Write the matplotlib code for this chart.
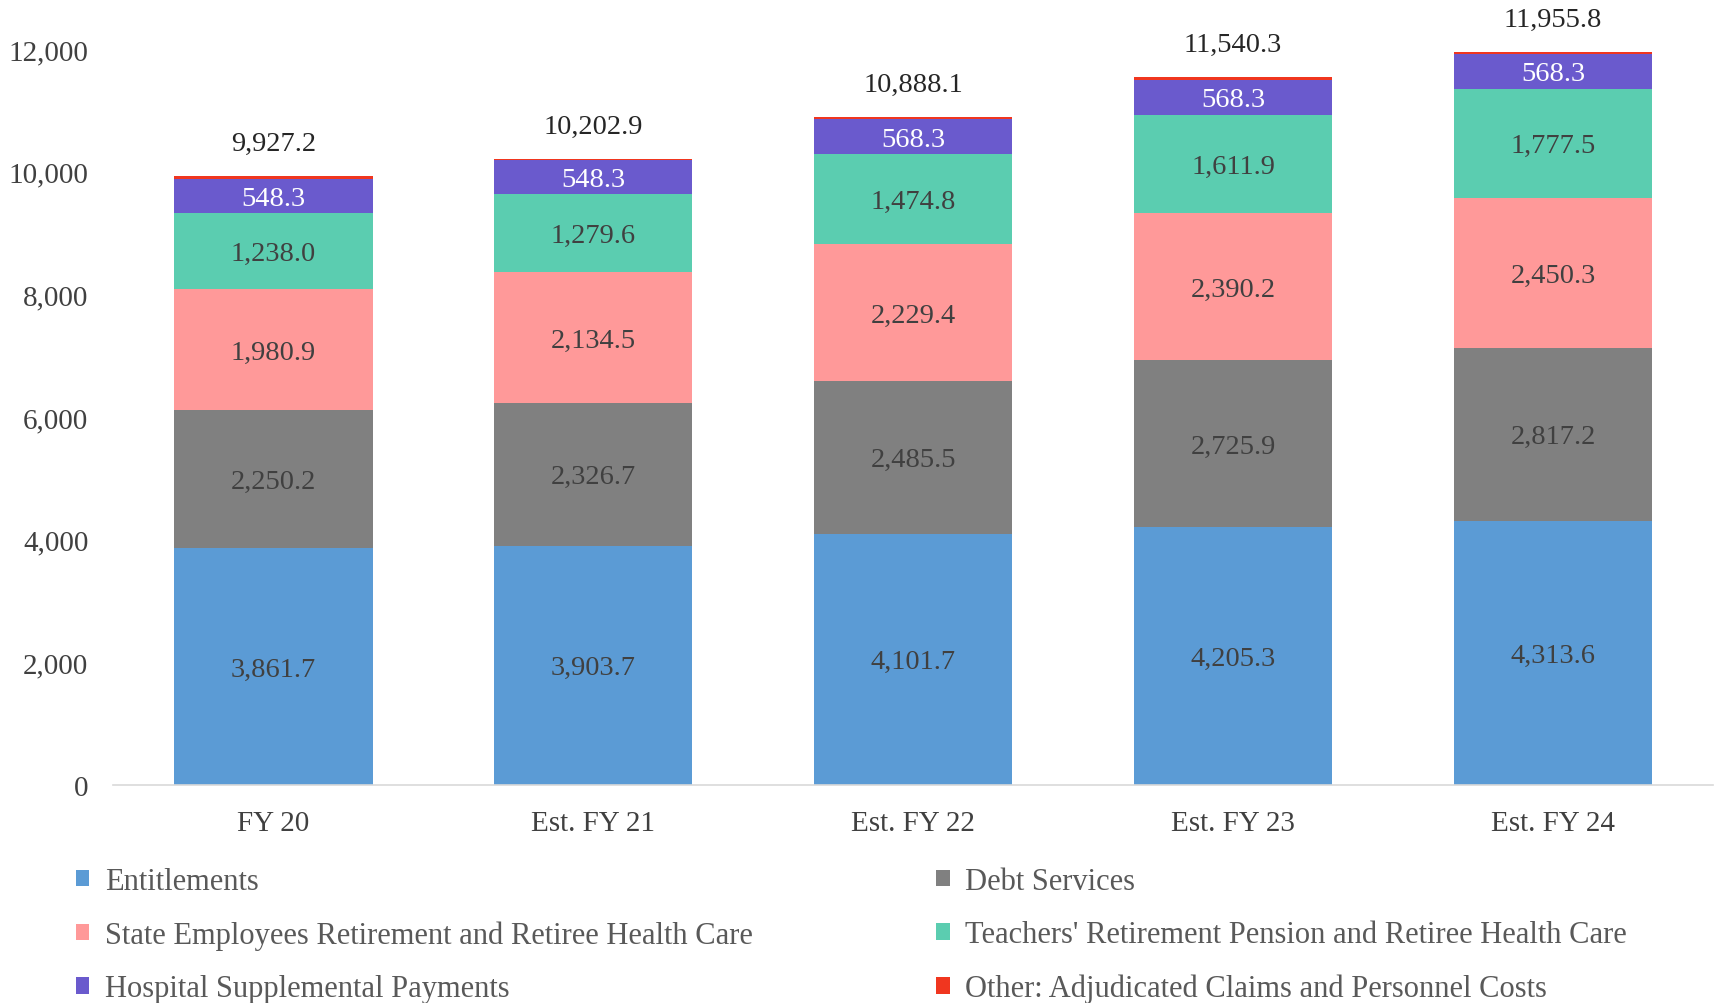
import numpy as np
import matplotlib
matplotlib.use('Agg')
import matplotlib.pyplot as plt
from matplotlib.ticker import FuncFormatter

plt.rcParams['font.family'] = ['Liberation Serif', 'DejaVu Serif']

# Data (millions)
years = ['FY 20', 'Est. FY 21', 'Est. FY 22', 'Est. FY 23', 'Est. FY 24']
entitlements = [3861.7, 3903.7, 4101.7, 4205.3, 4313.6]
debt = [2250.2, 2326.7, 2485.5, 2725.9, 2817.2]
state_emp = [1980.9, 2134.5, 2229.4, 2390.2, 2450.3]
teachers = [1238.0, 1279.6, 1474.8, 1611.9, 1777.5]
hospital = [548.3, 548.3, 568.3, 568.3, 568.3]
other = [48.1, 10.1, 28.4, 38.7, 28.9]
totals = [9927.2, 10202.9, 10888.1, 11540.3, 11955.8]

series = [
    ('Entitlements', entitlements, '#5B9BD5', '#404040', True),
    ('Debt Services', debt, '#808080', '#404040', True),
    ('State Employees Retirement and Retiree Health Care', state_emp, '#FF9999', '#404040', True),
    ("Teachers' Retirement Pension and Retiree Health Care", teachers, '#5BCDB0', '#404040', True),
    ('Hospital Supplemental Payments', hospital, '#6A5ACD', 'white', True),
    ('Other: Adjudicated Claims and Personnel Costs', other, '#F0361F', '#404040', False),
]

fig = plt.figure(figsize=(17.19, 10.04), dpi=100)
ax = fig.add_axes([0.066, 0.217, 0.9305, 0.733])

x = np.arange(len(years))
bottom = np.zeros(len(years))
handles = {}
for name, vals, color, tcolor, show in series:
    vals = np.array(vals)
    b = ax.bar(x, vals, width=0.62, bottom=bottom, color=color, label=name)
    handles[name] = b
    if show:
        # Excel puts the label a touch below the segment centre
        for xi, v, bt in zip(x, vals, bottom):
            ax.text(xi, bt + v / 2 - 40, f'{v:,.1f}', ha='center', va='center',
                    fontsize=20.5, color=tcolor)
    bottom += vals

for xi, t, bt in zip(x, totals, bottom):
    ax.text(xi, bt + 330, f'{t:,.1f}', ha='center', va='bottom',
            fontsize=20.5, color='#262626', clip_on=False)

ax.set_xlim(-0.5, 4.5)
ax.set_ylim(0, 12000)
ax.set_yticks(range(0, 12001, 2000))
ax.yaxis.set_major_formatter(FuncFormatter(lambda v, p: f'{v:,.0f}'))
ax.set_xticks(x)
ax.set_xticklabels(years)
ax.tick_params(axis='both', length=0, labelsize=21, colors='#404040')
ax.tick_params(axis='x', pad=18)
ax.tick_params(axis='y', pad=18)
for s in ['top', 'right', 'left']:
    ax.spines[s].set_visible(False)
ax.spines['bottom'].set_color('#D9D9D9')
ax.spines['bottom'].set_linewidth(1.2)

order = [series[0][0], series[2][0], series[4][0], series[1][0], series[3][0], series[5][0]]
leg = fig.legend([handles[n] for n in order], order, loc='upper left',
                 bbox_to_anchor=(0.028, 0.163), ncol=2, frameon=False,
                 fontsize=22, handlelength=0.45, handleheight=0.45,
                 handletextpad=0.5, columnspacing=6.0, labelspacing=0.8)
for t in leg.get_texts():
    t.set_color('#595959')

fig.savefig('out.png', dpi=100)
